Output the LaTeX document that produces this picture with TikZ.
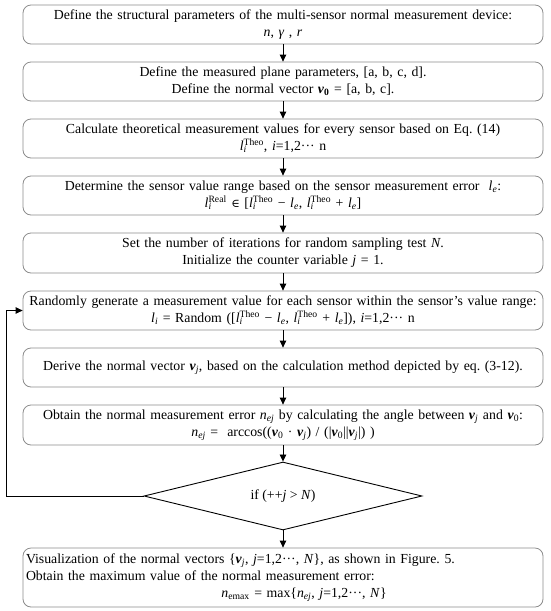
\documentclass[tikz,border=0pt]{standalone}
\usepackage{fontspec}
\setmainfont{Liberation Serif}
\newfontfamily\symfont{DejaVu Serif}
\usetikzlibrary{shapes.geometric,arrows.meta}
\definecolor{boxgray}{RGB}{140,140,140}
\frenchspacing
\newcommand{\fs}{\fontsize{13.8}{17}\selectfont}
\newcommand{\bv}[1]{\textbf{\textit{#1}}}
\newcommand{\ltheo}{\textit{l}\rlap{\textsubscript{\textit{i}}}\textsuperscript{Theo}}
\newcommand{\lreal}{\textit{l}\rlap{\textsubscript{\textit{i}}}\textsuperscript{Real}}
\newcommand{\lerr}{\textit{l}\textsubscript{\textit{e}}}
\newcommand{\myin}{{\symfont\fontsize{11.5}{17}\selectfont ∈}}
\begin{document}
\begin{tikzpicture}[x=1pt,y=-1pt,
  box/.style={draw=boxgray, line width=0.8pt, rounded corners=8pt,
    minimum width=520pt, text width=514pt, inner xsep=3pt, inner ysep=0pt,
    align=center, font=\fs},
  dia/.style={diamond, draw, line width=0.9pt, minimum width=278pt,
    minimum height=68pt, aspect=4.09, inner sep=0pt, font=\fs},
  arr/.style={draw, line width=0.8pt, -{Triangle[length=7pt,width=6.5pt]}}]
\useasboundingbox (0,0) rectangle (550,611);
\node[box, minimum height=39pt] (b1) at (283,24.5)
  {Define the structural parameters of the multi-sensor normal measurement device:\\
   \textit{n}, \textit{γ} , \textit{r}};
\node[box, minimum height=39pt] (b2) at (283,81.5)
  {Define the measured plane parameters, [a, b, c, d].\\
   Define the normal vector \bv{v}\textsubscript{\textbf{0}} = [a, b, c].};
\node[box, minimum height=39pt] (b3) at (283,138.5)
  {Calculate theoretical measurement values for every sensor based on Eq. (14)\\
   \ltheo, \textit{i}=1,2··· n};
\node[box, minimum height=39pt] (b4) at (283,195.5)
  {Determine the sensor value range based on the sensor measurement error\ \ \lerr:\\
   \lreal\ \myin\ [\ltheo\ − \lerr, \ltheo\ + \lerr]};
\node[box, minimum height=40pt] (b5) at (283,253)
  {Set the number of iterations for random sampling test \textit{N}.\\
   Initialize the counter variable \textit{j} = 1.};
\node[box, minimum height=39pt] (b6) at (283,310.5)
  {Randomly generate a measurement value for each sensor within the sensor’s value range:\\
   \textit{l}\textsubscript{\textit{i}} = Random ([\ltheo\ − \lerr, \ltheo\ + \lerr]), \textit{i}=1,2··· n};
\node[box, minimum height=39pt] (b7) at (283,367.5)
  {Derive the normal vector \bv{v}\textsubscript{\textit{j}}, based on the calculation method depicted by eq. (3-12).};
\node[box, minimum height=40pt] (b8) at (283,425)
  {Obtain the normal measurement error \textit{n}\textsubscript{\textit{ej}} by calculating the angle between \bv{v}\textsubscript{\textit{j}} and \bv{v}\textsubscript{0}:\\
   \textit{n}\textsubscript{\textit{ej}} =\ \ arccos((\bv{v}\textsubscript{0} · \bv{v}\textsubscript{\textit{j}}) / (|\bv{v}\textsubscript{0}||\bv{v}\textsubscript{\textit{j}}|) )};
\node[dia] (d) at (283,496) {if (++\textit{j} > \textit{N})};
\node[box, minimum height=59pt, align=left] (b9) at (283,577.5)
  {Visualization of the normal vectors \{\bv{v}\textsubscript{\textit{j}}, \textit{j}=1,2···, \textit{N}\}, as shown in Figure. 5.\\
   Obtain the maximum value of the normal measurement error:\\
   \makebox[\linewidth][c]{\hspace*{42pt}\textit{n}\textsubscript{emax} = max\{\textit{n}\textsubscript{\textit{ej}}, \textit{j}=1,2···, \textit{N}\}}};
\coordinate (lp) at (6,496);
\draw[arr] (b1.south) -- (b2.north);
\draw[arr] (b2.south) -- (b3.north);
\draw[arr] (b3.south) -- (b4.north);
\draw[arr] (b4.south) -- (b5.north);
\draw[arr] (b5.south) -- (b6.north);
\draw[arr] (b6.south) -- (b7.north);
\draw[arr] (b7.south) -- (b8.north);
\draw[arr] (b8.south) -- (d.north);
\draw[arr] (d.south) -- (b9.north);
\draw[arr] (d.west) -- (lp) |- (b6.west);
\end{tikzpicture}
\end{document}
